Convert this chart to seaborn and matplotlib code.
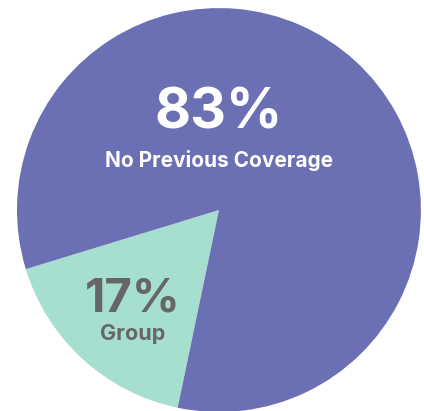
import matplotlib
matplotlib.use("Agg")
import matplotlib.pyplot as plt
import seaborn as sns

# Data
labels = ['Group', 'No Previous Coverage']
shares = [17, 83]
colors = ['#a6dfd0', '#6b6fb3']
text_colors = ['#666666', 'white']


def create_chart():
    sns.set_theme(style="white")
    plt.rcParams['font.family'] = ['Inter', 'DejaVu Sans']

    fig = plt.figure(figsize=(4.24, 4.11), dpi=100)
    ax = fig.add_axes([0, 0, 1, 1])

    ax.pie(shares, colors=colors, startangle=197, counterclock=True,
           wedgeprops={'linewidth': 0})

    # big percent + caption inside each slice
    pos = {'Group': (-0.426, -0.445, -0.615, 34, 15.5),
           'No Previous Coverage': (0.0, 0.48, 0.243, 40, 15)}
    for lab, val, tc in zip(labels, shares, text_colors):
        x, y1, y2, s1, s2 = pos[lab]
        ax.text(x, y1, f'{val}%', ha='center', va='center', color=tc,
                fontsize=s1, fontweight='bold')
        ax.text(x, y2, lab, ha='center', va='center', color=tc,
                fontsize=s2, fontweight='bold')

    ax.set_xlim(-1.084, 1.015)
    ax.set_ylim(-0.995, 1.04)
    ax.axis('off')

    fig.savefig('out.png', dpi=100)
    plt.close(fig)


if __name__ == '__main__':
    create_chart()
